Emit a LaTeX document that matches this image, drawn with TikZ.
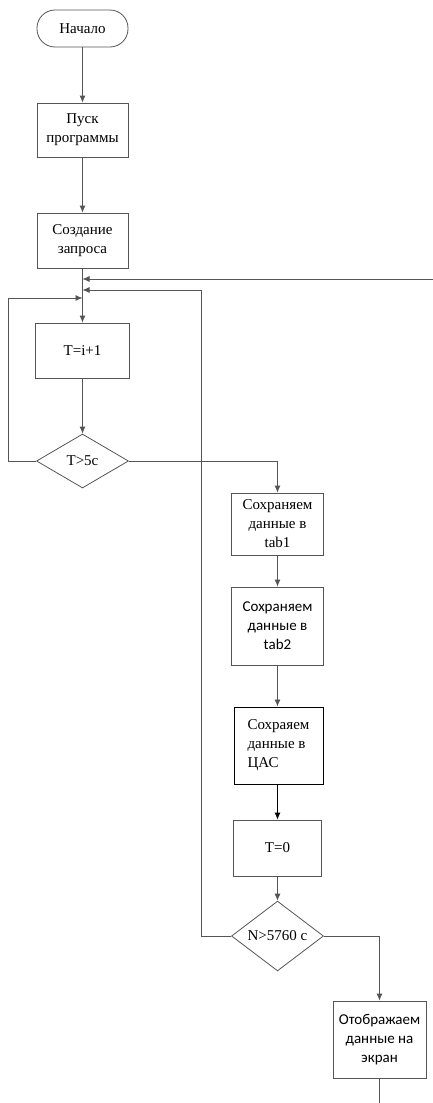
\documentclass[tikz,border=0pt]{standalone}
\usepackage{fontspec}
\setmainfont{Liberation Serif}
\newfontfamily\timesf{Liberation Serif}
\newfontfamily\calib{Carlito}
\usepackage{tikz}
\usetikzlibrary{calc}
\usetikzlibrary{arrows.meta}
\usetikzlibrary{shapes.geometric}
\tikzset{>={Latex[length=7pt,width=6pt]}}
\definecolor{lngray}{RGB}{85,85,85}

\begin{document}
\begin{tikzpicture}[x=1pt,y=-1pt,
  box/.style={draw=lngray,line width=0.8pt,rectangle,inner sep=0pt,align=center,font=\timesf\fontsize{15}{19}\selectfont},
  term/.style={box,rounded corners=18pt},
  cond/.style={box,diamond,minimum width=92pt,minimum height=54pt},
  sansbox/.style={box,font=\calib\fontsize{15}{19}\selectfont},
  flow/.style={draw=lngray,line width=0.8pt}]
\useasboundingbox (0,0) rectangle (433,1103);
% left column
\node[term,minimum width=91pt,minimum height=37pt] (start) at (82.5,28.5) {Начало};
\node[box,minimum width=91pt,minimum height=54pt] (run) at (82.5,130) {Пуск\\программы};
\node[box,minimum width=91pt,minimum height=55pt] (req) at (82.5,240.5) {Создание\\запроса};
\node[box,minimum width=94pt,minimum height=55pt] (inc) at (82.5,350.5) {T=i+1};
\node[cond] (chk) at (82.5,461) {T>5c};
% right column
\node[box,minimum width=92pt,minimum height=62pt] (tab1) at (277.5,524) {Сохраняем\\данные в\\tab1};
\node[sansbox,minimum width=92pt,minimum height=78pt] (tab2) at (277.5,626) {Сохраняем\\данные в\\tab2};
\node[box,draw=black,line width=1pt,minimum width=89pt,minimum height=77pt,align=left] (cas) at (278.5,745.5) {Сохраяем\\данные в\\ЦАС};
\node[box,minimum width=88pt,minimum height=56pt] (zero) at (277.5,848) {T=0};
\node[cond] (chkN) at (277.5,936) {N>5760 c};
\node[sansbox,minimum width=93pt,minimum height=77pt] (show) at (379.5,1039.5) {Отображаем\\данные на\\экран};
% join points on the main line
\coordinate (j1) at (82.5,279);
\coordinate (j2) at (82.5,290);
\coordinate (j3) at (82.5,298);
\coordinate (outer) at (433,279);
\coordinate (tail) at (379.5,1103);

\draw[flow,->] (start) -- (run);
\draw[flow,->] (run) -- (req);
\draw[flow,->] (req) -- (inc);
\draw[flow,->] (inc) -- (chk);
\draw[flow,->] (outer) -- (j1); %from outside
\draw[flow,->] (chk.west) -- ++(-28,0) |- (j3); %loop T
\draw[flow,->] (chk.east) -| (tab1.north);
\draw[flow,->] (tab1) -- (tab2);
\draw[flow,->] (tab2) -- (cas.north -| tab2.south);
\draw[->,line width=0.8pt] (cas.south -| zero.north) -- (zero);
\draw[flow,->] (zero) -- (chkN);
\draw[flow,->] (chkN.west) -- ++(-29.5,0) |- (j2); %loop N
\draw[flow,->] (chkN.east) -| (show.north);
\draw[flow] (show.south) -- (tail);
\end{tikzpicture}
\end{document}
